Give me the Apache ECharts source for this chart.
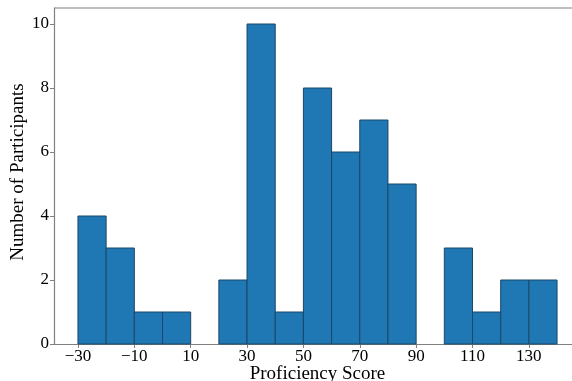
<!DOCTYPE html>
<html><head><meta charset="utf-8">
<script src="https://cdn.jsdelivr.net/npm/echarts@6/dist/echarts.min.js"></script>
<style>html,body{margin:0;padding:0;background:#fff}#c{width:572px;height:381px}</style>
</head><body><div id="c"></div>
<script>
const binStarts = [-30,-20,-10,0,10,20,30,40,50,60,70,80,90,100,110,120,130];
const counts    = [4,3,1,1,0,2,10,1,8,6,7,5,0,3,1,2,2];
const binWidth = 10;
const xTicks = [-30,-10,10,30,50,70,90,110,130];
const yTicks = [0,2,4,6,8,10];

const data = binStarts.map((s,i)=>[s, s+binWidth, counts[i]]).filter(d=>d[2]>0);
const font = '"Liberation Serif","DejaVu Serif",serif';
const chart = echarts.init(document.getElementById('c'));
chart.setOption({
  animation:false,
  grid:{left:54,right:-9,top:8,bottom:37,containLabel:false,outerBoundsMode:'none'},
  xAxis:{type:'value',min:-38.5,max:148.5,
    name:'Proficiency Score',nameLocation:'middle',nameGap:21,nameMoveOverlap:false,
    nameTextStyle:{fontFamily:font,fontSize:19,color:'#000',padding:[0,0,0,0]},
    axisLine:{show:true,onZero:false,lineStyle:{color:'#808080',width:1.2}},
    axisTick:{show:true,customValues:xTicks,length:4,lineStyle:{color:'#808080'}},
    axisLabel:{customValues:xTicks,fontFamily:font,fontSize:17,color:'#000',margin:4,
      formatter:v=>String(v).replace('-','\u2212')},
    splitLine:{show:false}},
  yAxis:{type:'value',min:0,max:10.5,
    name:'Number of Participants',nameLocation:'middle',nameGap:26,nameMoveOverlap:false,
    nameTextStyle:{fontFamily:font,fontSize:19,color:'#000',padding:[0,0,0,8]},
    axisLine:{show:true,onZero:false,lineStyle:{color:'#808080',width:1.2}},
    axisTick:{show:true,customValues:yTicks,length:4,lineStyle:{color:'#808080'}},
    axisLabel:{customValues:yTicks,fontFamily:font,fontSize:17,color:'#000',margin:5},
    splitLine:{show:false}},
  graphic:[{type:'line',shape:{x1:54,y1:8,x2:572,y2:8},style:{stroke:'#808080',lineWidth:1.2},z:10}],
  series:[{type:'custom',data:data,
    renderItem:function(params,api){
      const p0 = api.coord([api.value(0),api.value(2)]);
      const p1 = api.coord([api.value(1),0]);
      return {type:'rect',shape:{x:p0[0],y:p0[1],width:p1[0]-p0[0],height:p1[1]-p0[1]},
        style:{fill:'#1f77b4',stroke:'#1b4868',lineWidth:1}};
    }}]
});
</script></body></html>
